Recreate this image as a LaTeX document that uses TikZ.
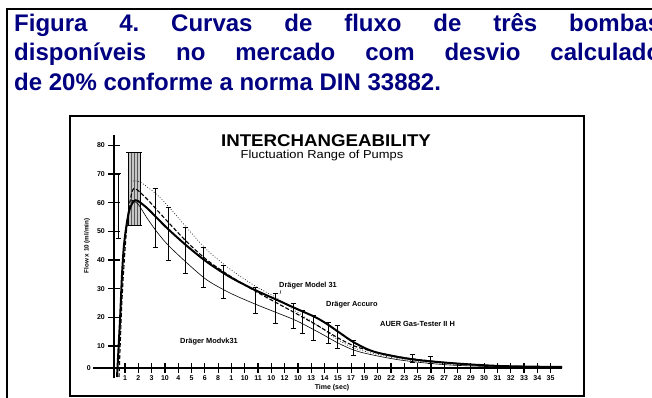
\documentclass[tikz,border=0pt]{standalone}
\usepackage{fontspec}
\setmainfont{Liberation Sans}
\usetikzlibrary{positioning}
\definecolor{navy}{RGB}{0,0,128}
\tikzset{
  captxt/.style={font=\bfseries\fontsize{24}{29}\selectfont\frenchspacing,text=navy,inner sep=0pt,anchor=base west},
  num/.style={font=\bfseries\fontsize{7}{8}\selectfont,inner sep=0pt},
  lbl/.style={font=\bfseries\fontsize{7.4}{9}\selectfont,inner sep=0pt,anchor=base west},
  ebar/.style={line width=0.6pt},
}

\begin{document}
\begin{tikzpicture}[x=1pt,y=-1pt,line cap=butt]
  \useasboundingbox (0,0) rectangle (652,398);
  \clip (0,0) rectangle (652,398);
  % frames
  \draw[line width=2pt] (6.5,9.5) rectangle (680,430);
  \draw[line width=1.5pt] (70,116) rectangle (584,396);
  % caption
  \node[captxt] (cap1) at (14,31.7) {\makebox[647pt][s]{Figura 4. Curvas de fluxo de três bombas}};
  \node[captxt] (cap2) at (14,61)   {\makebox[647pt][s]{disponíveis no mercado com desvio calculado}};
  \node[captxt] (cap3) at (14,90.5) {de 20\% conforme a norma DIN 33882.};
  % chart titles
  \node[font=\bfseries\fontsize{17}{19}\selectfont,anchor=base,inner sep=0pt] (title) at (326,146.5) {\scalebox{1.1}[1]{INTERCHANGEABILITY}};
  \node[font=\fontsize{11.5}{13}\selectfont,inner sep=0pt] (sub) [below=3pt of title,xshift=-4pt] {\scalebox{1.12}[1]{Fluctuation Range of Pumps}};
  % axes
  \draw[line width=2pt] (113.5,135) -- (113.5,378);
  \draw[line width=1.5pt] (93,368) -- (562,368);
  \node[num,anchor=east] (y0) at (91,368) {0};
  \foreach \v in {10,20,...,80}{
    \pgfmathsetmacro\yy{346-(\v-10)*2.865}
    \draw[line width=1.2pt] (108,\yy) -- (120,\yy);
    \node[num,anchor=east] (y\v) at (105,\yy) {\v};
  }
  \draw[line width=1.2pt] (113.5,363) -- (113.5,373);
  \foreach \t [count=\i from 0] in {1,2,3,10,4,5,6,8,1,10,11,10,12,10,13,14,15,17,19,20,22,23,25,26,27,28,29,30,31,32,33,34,35}{
    \pgfmathsetmacro\xx{125+13.3*\i}
    \draw[line width=1.2pt] (\xx,363) -- (\xx,373);
    \node[num] (x\i) at (\xx,378.5) {\t};
  }
  \node[num] (xlab) at (332,387.5) {Time (sec)};
  \node[font=\bfseries\fontsize{6.3}{7}\selectfont,rotate=90,inner sep=0pt] (ylab) at (87,246) {Flow x 10 (ml/min)};
  % shaded range at the peak
  \fill[gray!45] (128,152) rectangle (140,225);
  \foreach \x in {131,134,137}
    \draw[line width=0.3pt,gray!70!black] (\x,152) -- (\x,225);
  \draw[line width=0.7pt] (128,152) -- (128,225) (140,152) -- (140,225);
  \draw[line width=0.8pt] (126,152) -- (142,152) (126,225) -- (142,225);
  % error bars
  \foreach \x/\a/\b in {118/173/238,155/188/247,168/207/260,185/227/273,203/247/287,
                        223/265/298,255/287/313,275/293/323,293/303/328,302/310/333,
                        313/315/340,328/322/343,337/325/348,353/340/355,412/354/362,430/356/363}{
    \draw[ebar] (\x,\a) -- (\x,\b);
    \draw[ebar] (\x-2.5,\a) -- (\x+2.5,\a);
    \draw[ebar] (\x-2.5,\b) -- (\x+2.5,\b);
  }
  % curves
  \draw[line width=2pt] plot[smooth] coordinates {(117,377) (120,320) (122,275) (124,245) (127,222) (130,208) (134,201) (138,201) (147,208) (157,218) (168,229) (187,246) (207,262) (230,277) (255,290) (275,299) (297,309) (315,317) (327,324) (340,333) (355,343) (375,352) (410,359) (450,363) (500,366) (562,367)};
  \draw[line width=1.1pt,dash pattern=on 4pt off 2pt] plot[smooth] coordinates {(119,377) (122,300) (125,250) (128,215) (132,192) (136,189) (147,199) (157,210) (168,222) (187,242) (207,260) (230,276) (255,291) (275,302) (297,314) (320,327) (340,339) (360,348) (400,357) (450,363) (500,366) (562,367.5)};
  \draw[line width=0.7pt,dotted] plot[smooth] coordinates {(133,181) (140,182) (155,193) (168,206) (187,228) (207,250) (230,269) (255,286) (275,297) (297,312) (320,327) (340,341) (360,350) (400,359) (450,364) (520,367.5)};
  \draw[line width=0.6pt] plot[smooth] coordinates {(131,200) (138,204) (147,218) (157,232) (168,245) (187,263) (207,280) (230,293) (255,304) (275,312) (297,321) (320,333) (340,344) (360,352) (400,360) (450,365) (520,367.5)};
  % curve labels
  \node[lbl] (m31) at (279,287) {Dräger Model 31};
  \draw[line width=0.4pt] (281,290) -- (280,294);
  \node[lbl] (acc) at (326,306) {Dräger Accuro};
  \node[lbl] (auer) at (380,326) {AUER Gas-Tester II H};
  \node[lbl] (m31b) at (180,343) {Dräger Modvk31};
\end{tikzpicture}
\end{document}
